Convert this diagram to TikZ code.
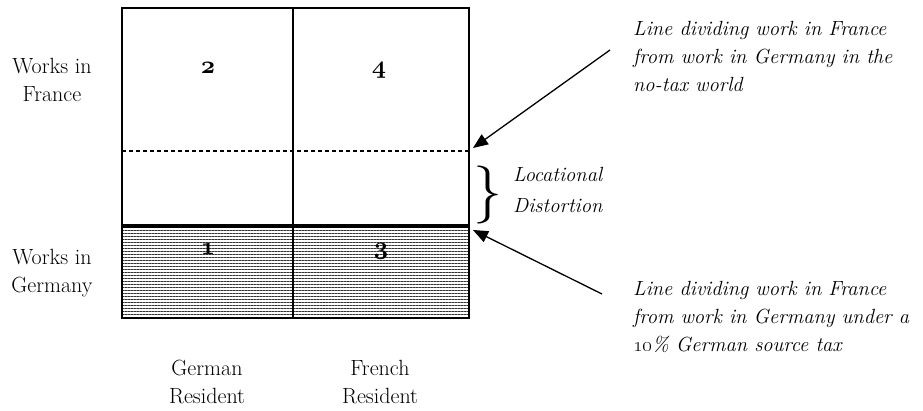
\documentclass[tikz,border=0pt]{standalone}
\usetikzlibrary{arrows.meta,patterns.meta}

\newcommand{\cellfig}[1]{{\usefont{OML}{cmm}{b}{it}#1}}

\tikzset{
  rowlabel/.style={align=center,font=\fontsize{22}{28}\selectfont,inner sep=0pt},
  note/.style={align=left,anchor=west,font=\fontsize{20.5}{28}\selectfont\itshape,inner sep=0pt},
  cellnum/.style={anchor=base,font=\fontsize{24}{24}\selectfont,inner sep=0pt},
  pointer/.style={-{Triangle[length=15pt,width=12pt]},line width=1.3pt},
}

\begin{document}
\begin{tikzpicture}[x=1pt,y=-1pt]
\useasboundingbox (0,0) rectangle (923,410);

% hatched part: work in Germany under the tax
\fill[pattern={Lines[angle=0,distance=3pt,line width=0.9pt]},pattern color=black!80] (122,226) rectangle (469,318);

\draw[dash pattern=on 4pt off 3pt,line width=1.2pt] (122,151) -- (469,151);
\draw[line width=3.5pt] (122,226) -- (469,226);
\draw[line width=2pt] (293,8) -- (293,318);
\draw[line width=2pt] (122,8) rectangle (469,318);

\node[cellnum] (c2) at (208,73) {\cellfig{2}};
\node[cellnum] (c4) at (379,73) {\cellfig{4}};
\node[cellnum] (c1) at (208,254) {\cellfig{1}};
\node[cellnum] (c3) at (381,254) {\cellfig{3}};

\node[rowlabel] (france) at (52,80) {Works in\\France};
\node[rowlabel] (germany) at (52,273) {Works in\\Germany};
\node[rowlabel] (gres) at (207,382) {German\\Resident};
\node[rowlabel] (fres) at (380,382) {French\\Resident};

\node[note] (notax) at (633,56) {Line dividing work in France\\from work in Germany in the\\no-tax world};
\node[note] (withtax) at (633,317) {Line dividing work in France\\from work in Germany under a\\\oldstylenums{10}\% German source tax};

\node[inner sep=0pt] (brace) at (488,195) {\fontsize{58}{58}\selectfont\}};
\node[note,font=\fontsize{20.5}{31}\selectfont\itshape] (distortion) at (513,190) {Locational\\Distortion};

\coordinate (notaxtail) at (610,50);
\coordinate (notaxend) at (473,148);
\coordinate (withtaxtail) at (602,294);
\coordinate (withtaxend) at (473,230);

\draw[pointer] (notaxtail) -- (notaxend);
\draw[pointer] (withtaxtail) -- (withtaxend);
\end{tikzpicture}
\end{document}
